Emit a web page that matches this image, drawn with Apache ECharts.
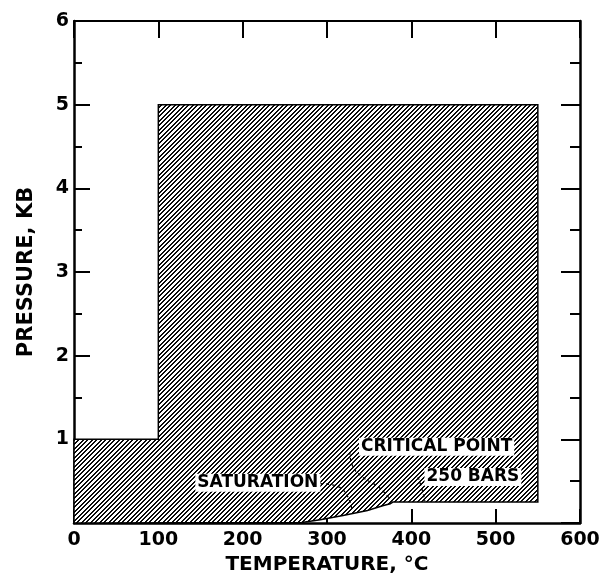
<!DOCTYPE html>
<html><head><meta charset="utf-8">
<script src="https://cdn.jsdelivr.net/npm/echarts@6/dist/echarts.min.js"></script>
<style>html,body{margin:0;padding:0;background:#fff}#c{width:601px;height:578px}</style>
</head><body><div id="c"></div>
<script>
// Boundary of the hatched (studied) region: temperature (°C) and pressure (kb)
const hatchT = [0, 0, 100, 100, 550, 550, 378, 375, 367, 348, 319, 292, 270, 0];
const hatchP = [0, 1, 1, 5, 5, 0.25, 0.25, 0.23, 0.21, 0.15, 0.09, 0.04, 0.005, 0];
// Annotation texts and anchor positions
const noteText = ['SATURATION', 'CRITICAL POINT', '250 BARS'];
const noteT = [218, 430, 473];
const noteP = [0.48, 0.91, 0.55];
// Leader lines
const satLeaderT = [292, 316, 330];
const satLeaderP = [0.47, 0.42, 0.14];
const critLeaderT = [327, 330, 342, 361, 375];
const critLeaderP = [0.85, 0.69, 0.55, 0.43, 0.28];
const barsLeaderT = [408, 413, 416];
const barsLeaderP = [0.55, 0.39, 0.26];
// Axis ticks
const xTicks = [0, 100, 200, 300, 400, 500, 600];
const yTicks = [0, 1, 2, 3, 4, 5, 6];

// hatch pattern tile
const tile = document.createElement('canvas');
tile.width = 9; tile.height = 9;
const tctx = tile.getContext('2d');
const img = tctx.createImageData(9, 9);
for (let y = 0; y < 9; y++) for (let x = 0; x < 9; x++) {
  const k = (x + y) % 9;
  const on = (k === 0 || k === 1 || k === 5 || k === 4) ? 1 : 0;
  const i = (y * 9 + x) * 4;
  const v = on ? 10 : 255;
  img.data[i] = v; img.data[i+1] = v; img.data[i+2] = v; img.data[i+3] = 255;
}
tctx.putImageData(img, 0, 0);

const chart = echarts.init(document.getElementById('c'), null, {renderer: 'canvas'});
const lblFont = {fontFamily: 'DejaVu Sans', fontWeight: 'bold', fontSize: 19, color: '#000'};
const zip = (a, b) => a.map((v, i) => [v, b[i]]);
const leader = d => ({
  type: 'line', data: d, smooth: true, symbol: 'none', silent: true, z: 4,
  lineStyle: {color: '#000', width: 1.3, type: [3, 3]}
});
chart.setOption({
  animation: false,
  grid: {left: 74, right: 21, top: 21, bottom: 55, containLabel: false, outerBoundsMode: 'none'},
  xAxis: [{
    type: 'value', min: 0, max: 600, interval: 100, position: 'bottom',
    name: 'TEMPERATURE, °C', nameLocation: 'middle', nameGap: 31,
    nameTextStyle: {fontFamily: 'DejaVu Sans', fontWeight: 'bold', fontSize: 20, color: '#000'},
    axisLine: {onZero: false, lineStyle: {color: '#000', width: 2.5}},
    axisTick: {inside: true, length: 14, lineStyle: {color: '#000', width: 2}},
    axisLabel: Object.assign({margin: 8}, lblFont),
    splitLine: {show: false}
  }, {
    type: 'value', min: 0, max: 600, interval: 100, position: 'top',
    axisLine: {onZero: false, lineStyle: {color: '#000', width: 2}},
    axisTick: {inside: true, length: 17, lineStyle: {color: '#000', width: 2}},
    axisLabel: {show: false}, splitLine: {show: false}
  }],
  yAxis: [{
    type: 'value', min: 0, max: 6, interval: 1, position: 'left',
    name: 'PRESSURE, KB', nameLocation: 'middle', nameGap: 37,
    nameTextStyle: {fontFamily: 'DejaVu Sans', fontWeight: 'bold', fontSize: 21, color: '#000'},
    axisLine: {onZero: false, lineStyle: {color: '#000', width: 2.5}},
    axisTick: {inside: true, length: 16, lineStyle: {color: '#000', width: 2}},
    minorTick: {show: true, splitNumber: 2, length: 8, lineStyle: {color: '#000', width: 2}},
    axisLabel: Object.assign({margin: 5, formatter: v => v === 0 ? '' : String(v)}, lblFont),
    splitLine: {show: false}, minorSplitLine: {show: false}
  }, {
    type: 'value', min: 0, max: 6, interval: 1, position: 'right',
    axisLine: {onZero: false, lineStyle: {color: '#000', width: 2.5}},
    axisTick: {inside: true, length: 19, lineStyle: {color: '#000', width: 2}},
    minorTick: {show: true, splitNumber: 2, length: 10, lineStyle: {color: '#000', width: 2}},
    axisLabel: {show: false}, splitLine: {show: false}, minorSplitLine: {show: false}
  }],
  series: [{
    type: 'custom', silent: true, z: 2,
    data: [[0, 0]],
    renderItem: function (params, api) {
      const pts = hatchT.map((t, i) => api.coord([t, hatchP[i]]));
      return {
        type: 'polygon', shape: {points: pts},
        style: {fill: {image: tile, repeat: 'repeat'}, stroke: '#000', lineWidth: 1.5}
      };
    }
  },
  leader(zip(satLeaderT, satLeaderP)),
  leader(zip(critLeaderT, critLeaderP)),
  leader(zip(barsLeaderT, barsLeaderP)),
  {
    type: 'scatter', symbolSize: 0, silent: true, z: 5,
    itemStyle: {opacity: 1},
    data: noteText.map((n, i) => ({name: n, value: [noteT[i], noteP[i]]})),
    label: {
      show: true, position: 'inside', formatter: p => p.name,
      fontFamily: 'DejaVu Sans', fontWeight: 'bold', fontSize: 17, color: '#000',
      textBorderWidth: 0, backgroundColor: '#fff', padding: [1, 2, 0, 2], opacity: 1
    }
  }]
});
</script></body></html>
